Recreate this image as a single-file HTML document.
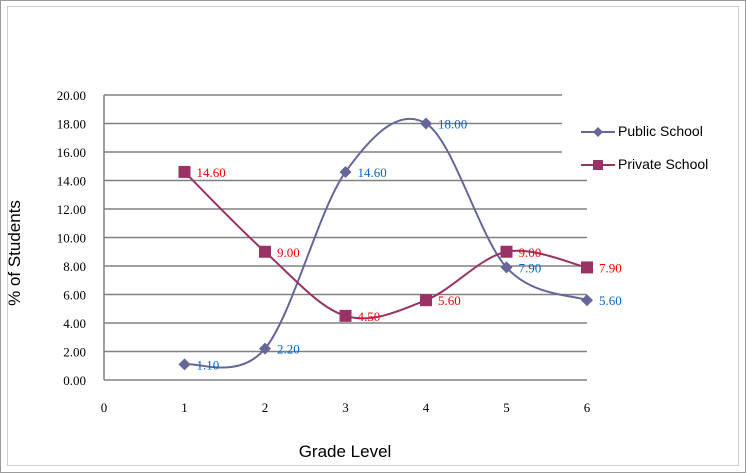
<!DOCTYPE html>
<html><head><meta charset="utf-8"><style>
body{margin:0;background:#fff}
svg{display:block;font-family:"Liberation Sans",Arial,sans-serif}
</style></head><body>
<svg id="c" width="746" height="473" viewBox="0 0 746 473">
<rect x="0.5" y="0.5" width="745" height="472" fill="#fff" stroke="#9a9a9a"/>
<rect x="7.5" y="6.5" width="731" height="459" fill="none" stroke="#cfcfcf"/>
<g id="grid"></g><g id="series"></g><g id="labels"></g>
<text x="20" y="253" transform="rotate(-90 20 253)" text-anchor="middle" font-size="17" fill="#000">% of Students</text>
<text x="345" y="457" text-anchor="middle" font-size="17" fill="#000">Grade Level</text>
<g>
<line x1="581" y1="132" x2="615" y2="132" stroke="#666699" stroke-width="2"/>
<path d="M598 127 L603 132 L598 137 L593 132Z" fill="#666699"/>
<text x="618" y="136" font-size="14">Public School</text>
<line x1="581" y1="165" x2="615" y2="165" stroke="#993366" stroke-width="2"/>
<rect x="593" y="160" width="10" height="10" fill="#993366"/>
<text x="618" y="169" font-size="14">Private School</text>
</g>
</svg>
<script>
const grades=[1,2,3,4,5,6];
const publicVals=[1.10,2.20,14.60,18.00,7.90,5.60];
const privateVals=[14.60,9.00,4.50,5.60,9.00,7.90];
const yTicks=[0,2,4,6,8,10,12,14,16,18,20];
const xTicks=[0,1,2,3,4,5,6];
const NS="http://www.w3.org/2000/svg";
const X0=104,X1=587,Y0=380,Y1=95;
const xs=v=>X0+(X1-X0)*v/6, ys=v=>Y0-(Y0-Y1)*v/20;
function mk(t,a,p){const e=document.createElementNS(NS,t);for(const k in a)e.setAttribute(k,a[k]);p.appendChild(e);return e;}
const grid=document.getElementById('grid'),ser=document.getElementById('series'),lab=document.getElementById('labels');
yTicks.forEach(v=>{
 const right=(v>=16)?562:X1;
 const l=mk('line',{x1:X0,x2:right,y1:ys(v),y2:ys(v),stroke:'#808080','stroke-width':1.5},grid);
 
 
 const t=mk('text',{x:86,y:ys(v)+5,'text-anchor':'end','font-size':13,'font-family':'Liberation Serif,serif'},grid);
 t.textContent=v.toFixed(2);
 
 
});
const ax=mk('line',{x1:X0,x2:X0,y1:Y1,y2:Y0,stroke:'#808080','stroke-width':1.5},grid);


xTicks.forEach(v=>{
 const t=mk('text',{x:xs(v),y:412,'text-anchor':'middle','font-size':13,'font-family':'Liberation Serif,serif'},grid);
 t.textContent=v;
 
 
});
function smooth(p){let d=`M${p[0][0]},${p[0][1]}`;for(let i=0;i<p.length-1;i++){const a=p[i-1]||p[i],b=p[i],c=p[i+1],e=p[i+2]||c;d+=` C${b[0]+(c[0]-a[0])/6},${b[1]+(c[1]-a[1])/6} ${c[0]-(e[0]-b[0])/6},${c[1]-(e[1]-b[1])/6} ${c[0]},${c[1]}`;}return d;}
function series(vals,color,name,sq,lc){
 const pts=grades.map((g,i)=>[xs(g),ys(vals[i])]);
 const p=mk('path',{d:smooth(pts),fill:'none',stroke:color,'stroke-width':2},ser);
 
 
 pts.forEach((q,i)=>{
  let m;
  if(sq)m=mk('rect',{x:q[0]-6,y:q[1]-6,width:12,height:12,fill:color},ser);
  else m=mk('path',{d:`M${q[0]},${q[1]-6} L${q[0]+6},${q[1]} L${q[0]},${q[1]+6} L${q[0]-6},${q[1]}Z`,fill:color},ser);
  
  
  const t=mk('text',{x:q[0]+12,y:q[1]+5,'font-size':13,fill:lc,'font-family':'Liberation Serif,serif'},lab);
  t.textContent=vals[i].toFixed(2);
  
  
 });
}
series(publicVals,'#666699','public-school',false,'#0066cc');
series(privateVals,'#993366','private-school',true,'#ff0000');
</script>
</body></html>
